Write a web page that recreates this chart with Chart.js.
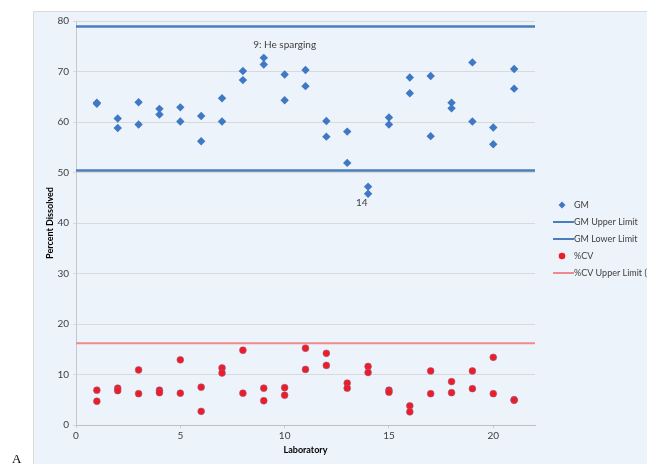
<!DOCTYPE html>
<html>
<head>
<meta charset="utf-8">
<script src="https://cdn.jsdelivr.net/npm/chart.js@4.4.1/dist/chart.umd.min.js"></script>
<style>
  html, body { margin: 0; padding: 0; background: #ffffff; }
  #wrap { width: 647px; height: 464px; position: relative; }
</style>
</head>
<body>
<div id="wrap"><canvas id="c" width="647" height="464"></canvas></div>
<script>
// ---- Data ----
const laboratories = [1,2,3,4,5,6,7,8,9,10,11,12,13,14,15,16,17,18,19,20,21];
const gmHigh = [63.8,60.7,63.9,62.6,62.9,61.2,64.7,70.1,72.7,69.4,70.3,60.2,58.1,47.2,60.9,68.8,69.1,63.8,71.8,58.9,70.5];
const gmLow  = [63.6,58.8,59.5,61.5,60.1,56.2,60.1,68.3,71.4,64.3,67.1,57.1,51.9,45.8,59.5,65.7,57.2,62.7,60.1,55.6,66.6];
const cvHigh = [6.9,7.3,10.9,6.9,12.9,7.5,11.3,14.8,7.3,7.4,15.2,14.2,8.3,11.6,6.9,3.8,10.7,8.6,10.7,13.4,5.0];
const cvLow  = [4.7,6.8,6.2,6.4,6.3,2.7,10.3,6.3,4.8,5.9,11.0,11.8,7.3,10.4,6.5,2.6,6.2,6.4,7.2,6.2,4.9];
const gmUpperLimit = 78.9;
const gmLowerLimit = 50.4;
const cvUpperLimit = 16.2;
const xRange = [0, 22];
const yRange = [0, 80];
const xTickStep = 5;
const yTickStep = 10;
const seriesNames = ["GM", "GM Upper Limit", "GM Lower Limit", "%CV", "%CV Upper Limit (8)"];
const annotations = [
  { text: "9: He sparging", x: 10.0, y: 75.2 },
  { text: "14", x: 13.7, y: 44.0 }
];
const xTitle = "Laboratory";
const yTitle = "Percent Dissolved";

// ---- Build datasets ----
const gmPoints = [];
const cvPoints = [];
laboratories.forEach((lab, i) => {
  gmPoints.push({ x: lab, y: gmHigh[i] }, { x: lab, y: gmLow[i] });
  cvPoints.push({ x: lab, y: cvHigh[i] }, { x: lab, y: cvLow[i] });
});
const limitLine = v => [{ x: xRange[0], y: v }, { x: xRange[1], y: v }];

const FONT = "Lato, 'Open Sans', 'Liberation Sans', sans-serif";
const BLUE = "#3F78C4";
const LINEBLUE = "#4A7EBB";
const RED = "#EE1C25";
const PINK = "#F08A8A";

const bgPlugin = {
  id: 'bg',
  beforeDraw(chart) {
    const ctx = chart.ctx;
    ctx.save();
    ctx.fillStyle = "#EDF3FA";
    ctx.fillRect(33, 11, 647 - 33, 464 - 11);
    ctx.strokeStyle = "#D9D9D9";
    ctx.lineWidth = 1;
    ctx.beginPath();
    ctx.moveTo(33.5, 464); ctx.lineTo(33.5, 11.5); ctx.lineTo(647, 11.5);
    ctx.stroke();
    ctx.restore();
  },
  afterDraw(chart) {
    const ctx = chart.ctx;
    const xs = chart.scales.x, ys = chart.scales.y;
    ctx.save();
    // annotations
    ctx.fillStyle = "#404040";
    ctx.font = "10px " + FONT;
    ctx.textAlign = "center";
    ctx.textBaseline = "middle";
    annotations.forEach(a => {
      ctx.fillText(a.text, xs.getPixelForValue(a.x), ys.getPixelForValue(a.y));
    });
    // legend
    const items = chart.data.datasets;
    const lx = 562, ly0 = 205, dy = 17;
    ctx.font = "9px " + FONT;
    ctx.textAlign = "left";
    items.forEach((ds, i) => {
      const y = ly0 + i * dy;
      if (ds.showLine) {
        ctx.strokeStyle = ds.borderColor;
        ctx.lineWidth = 2;
        ctx.beginPath();
        ctx.moveTo(553, y); ctx.lineTo(574, y);
        ctx.stroke();
      } else if (ds.pointStyle === 'rectRot') {
        ctx.fillStyle = ds.backgroundColor;
        ctx.beginPath();
        ctx.moveTo(lx, y - 3.5); ctx.lineTo(lx + 3.5, y); ctx.lineTo(lx, y + 3.5); ctx.lineTo(lx - 3.5, y);
        ctx.closePath(); ctx.fill();
      } else {
        ctx.fillStyle = ds.backgroundColor;
        ctx.beginPath();
        ctx.arc(lx, y, 3.3, 0, Math.PI * 2);
        ctx.fill();
      }
      ctx.fillStyle = "#404040";
      ctx.fillText(ds.label, 574, y);
    });
    // panel letter
    ctx.fillStyle = "#000";
    ctx.font = "13px 'Liberation Serif', serif";
    ctx.textAlign = "left";
    ctx.textBaseline = "alphabetic";
    ctx.fillText("A", 12, 463);
    ctx.restore();
  }
};

new Chart(document.getElementById('c'), {
  type: 'scatter',
  data: {
    datasets: [
      { label: seriesNames[0], data: gmPoints, pointStyle: 'rectRot', pointRadius: 4.2, pointHoverRadius: 4.2,
        backgroundColor: BLUE, borderColor: BLUE, borderWidth: 0, showLine: false },
      { label: seriesNames[1], data: limitLine(gmUpperLimit), showLine: true, pointRadius: 0,
        borderColor: LINEBLUE, borderWidth: 2.5, backgroundColor: LINEBLUE },
      { label: seriesNames[2], data: limitLine(gmLowerLimit), showLine: true, pointRadius: 0,
        borderColor: LINEBLUE, borderWidth: 2.5, backgroundColor: LINEBLUE },
      { label: seriesNames[3], data: cvPoints, pointStyle: 'circle', pointRadius: 3.4, pointHoverRadius: 3.4,
        backgroundColor: RED, borderColor: "#9B5A8A", borderWidth: 0.6, showLine: false },
      { label: seriesNames[4], data: limitLine(cvUpperLimit), showLine: true, pointRadius: 0,
        borderColor: PINK, borderWidth: 2, backgroundColor: PINK }
    ]
  },
  plugins: [bgPlugin],
  options: {
    responsive: false,
    animation: false,
    devicePixelRatio: 1,
    layout: { padding: { left: 0, right: 112, top: 21, bottom: 0 } },
    plugins: { legend: { display: false }, tooltip: { enabled: false } },
    scales: {
      x: {
        type: 'linear', min: xRange[0], max: xRange[1],
        ticks: { stepSize: xTickStep, includeBounds: false, color: "#404040", font: { family: FONT, size: 10 }, padding: 2 },
        grid: { drawOnChartArea: false, drawTicks: true, tickLength: 3, color: "#C8C8C8" },
        border: { color: "#BFBFBF", width: 1 },
        title: { display: true, text: xTitle, color: "#000", font: { family: FONT, size: 9, weight: 'bold' }, padding: { top: 0, bottom: 9 } },
        afterFit(s) { s.height = 39; }
      },
      y: {
        type: 'linear', min: yRange[0], max: yRange[1],
        ticks: { stepSize: yTickStep, color: "#404040", font: { family: FONT, size: 10 }, padding: 4 },
        grid: { color: "#D9D9D9", tickLength: 3, lineWidth: 1 },
        border: { color: "#C8C8C8", width: 1 },
        title: { display: true, text: yTitle, color: "#000", font: { family: FONT, size: 9, weight: 'bold' }, padding: { top: 45, bottom: 0 } },
        afterFit(s) { s.width = 76; }
      }
    }
  }
});
</script>
</body>
</html>
